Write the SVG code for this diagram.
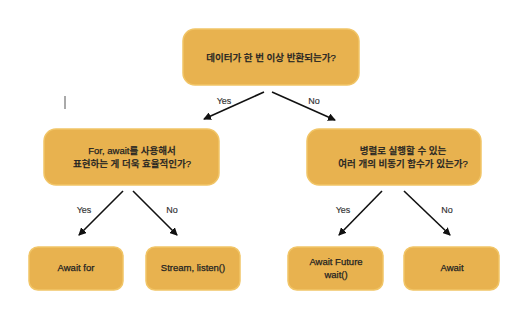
<svg xmlns="http://www.w3.org/2000/svg" width="521" height="316" viewBox="0 0 521 316">
<style>
.box{fill:#E8B24F;stroke:#F1C567;stroke-width:1.5}
.t{font-family:"Liberation Sans","Noto Sans CJK KR",sans-serif;font-size:9.5px;fill:#222;stroke:#222;stroke-width:0.25;text-anchor:middle;font-weight:500}
.l{font-family:"Liberation Sans","Noto Sans CJK KR",sans-serif;font-size:9px;fill:#333;stroke:#333;stroke-width:0.15;text-anchor:middle}
.c{stroke:#111;stroke-width:1.6;fill:none;marker-end:url(#ah)}
</style>
<defs>
<marker id="ah" markerWidth="8" markerHeight="8" refX="7" refY="4" orient="auto" markerUnits="userSpaceOnUse">
<path d="M0,0 L8,4 L0,8 Z" fill="#111"/>
</marker>
</defs>
<rect width="521" height="316" fill="#fff"/>
<line x1="65" y1="96" x2="65" y2="109" stroke="#555" stroke-width="1"/>
<g id="connectors">
<line class="c" x1="264" y1="92" x2="204" y2="119"/>
<line class="c" x1="272" y1="92" x2="335" y2="120"/>
<line class="c" x1="123" y1="191" x2="79" y2="235"/>
<line class="c" x1="133" y1="191" x2="177" y2="235"/>
<line class="c" x1="382" y1="191" x2="339" y2="235"/>
<line class="c" x1="404" y1="191" x2="450" y2="235"/>
<text class="l" x="224" y="104">Yes</text>
<text class="l" x="314" y="104">No</text>
<text class="l" x="84" y="213">Yes</text>
<text class="l" x="172" y="213">No</text>
<text class="l" x="343" y="213">Yes</text>
<text class="l" x="447" y="213">No</text>
</g>
<g id="q1">
<rect class="box" x="183" y="29" width="176" height="56" rx="12"/>
<text class="t" x="271" y="61">데이터가 한 번 이상 반환되는가?</text>
</g>
<g id="q2">
<rect class="box" x="44" y="129" width="175" height="56" rx="12"/>
<text class="t" x="132" y="154">For, await를 사용해서</text>
<text class="t" x="132" y="167">표현하는 게 더욱 효율적인가?</text>
</g>
<g id="q3">
<rect class="box" x="307" y="129" width="174" height="56" rx="12"/>
<text class="t" x="403" y="154">병렬로 실행할 수 있는</text>
<text class="t" x="403" y="167">여러 개의 비동기 함수가 있는가?</text>
</g>
<g id="a1">
<rect class="box" x="29" y="247" width="94" height="43" rx="9"/>
<text class="t" x="76" y="271">Await for</text>
</g>
<g id="a2">
<rect class="box" x="146" y="247" width="94" height="43" rx="9"/>
<text class="t" x="193" y="271">Stream, listen()</text>
</g>
<g id="a3">
<rect class="box" x="288" y="247" width="95" height="43" rx="9"/>
<text class="t" x="336" y="265">Await Future</text>
<text class="t" x="336" y="278">wait()</text>
</g>
<g id="a4">
<rect class="box" x="404" y="247" width="95" height="43" rx="9"/>
<text class="t" x="452" y="271">Await</text>
</g>
</svg>
